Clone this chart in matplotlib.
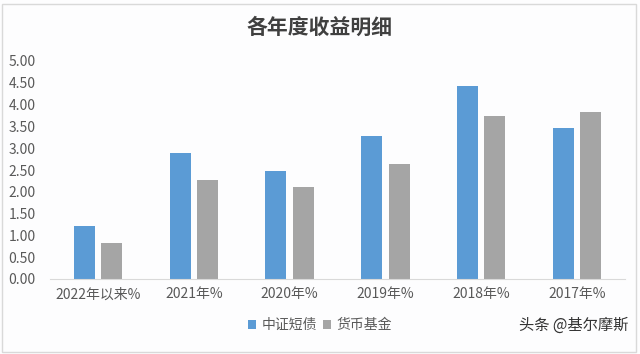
import matplotlib
matplotlib.use("Agg")
import matplotlib.pyplot as plt
import numpy as np

plt.rcParams['font.family'] = ['Noto Sans CJK SC', 'DejaVu Sans']

categories = ['2022年以来%', '2021年%', '2020年%', '2019年%', '2018年%', '2017年%']
zz_short_debt = [1.22, 2.88, 2.48, 3.28, 4.42, 3.46]
money_fund = [0.82, 2.27, 2.11, 2.64, 3.75, 3.83]
series_names = ['中证短债', '货币基金']
yticks = [0.0, 0.5, 1.0, 1.5, 2.0, 2.5, 3.0, 3.5, 4.0, 4.5, 5.0]

fig = plt.figure(figsize=(6.4, 3.54), dpi=100)
fig.patch.set_facecolor('#FDFDFE')
ax = fig.add_axes([50/640, 1-279/354, 575/640, (279-61)/354])
ax.set_facecolor('none')

x = np.arange(len(categories))
w = 0.22
gap = 0.065
ax.bar(x - (w+gap)/2, zz_short_debt, w, color='#5B9BD5', label=series_names[0])
ax.bar(x + (w+gap)/2, money_fund, w, color='#A5A5A5', label=series_names[1])

ax.set_xlim(-0.5, len(categories)-0.5)
ax.set_ylim(0, 5)
ax.set_yticks(yticks)
ax.set_yticklabels([f'{v:.2f}' for v in yticks])
ax.set_xticks(x)
ax.set_xticklabels(categories)
for s in ['top', 'right', 'left']:
    ax.spines[s].set_visible(False)
ax.spines['bottom'].set_color('#D9D9D9')
ax.tick_params(axis='both', length=0, labelsize=10, labelcolor='#595959')
ax.tick_params(axis='x', pad=6)
for lab in ax.get_yticklabels():
    lab.set_horizontalalignment('left')
    lab.set_x(-0.072)
ax.yaxis.set_tick_params(pad=0)

fig.text(0.5, 1-27/354, '各年度收益明细', ha='center', va='center', fontsize=15,
         fontweight='bold', color='#404040')

leg = fig.legend(loc='center', bbox_to_anchor=(320/640, 1-325/354), ncol=2, frameon=False,
                 fontsize=10, handlelength=0.6, handleheight=0.6, handletextpad=0.4,
                 columnspacing=0.4, labelcolor='#595959')

fig.text(1-12/640, 1-325/354, '头条 @基尔摩斯', ha='right', va='center', fontsize=11, color='#333333')

# light frame
fig.add_artist(plt.Rectangle((2/640, 2/354), 1-6/640, 1-6/354, transform=fig.transFigure,
                             fill=False, edgecolor='#D9D9D9', linewidth=1))

fig.savefig('out.png', dpi=100, facecolor=fig.get_facecolor())
